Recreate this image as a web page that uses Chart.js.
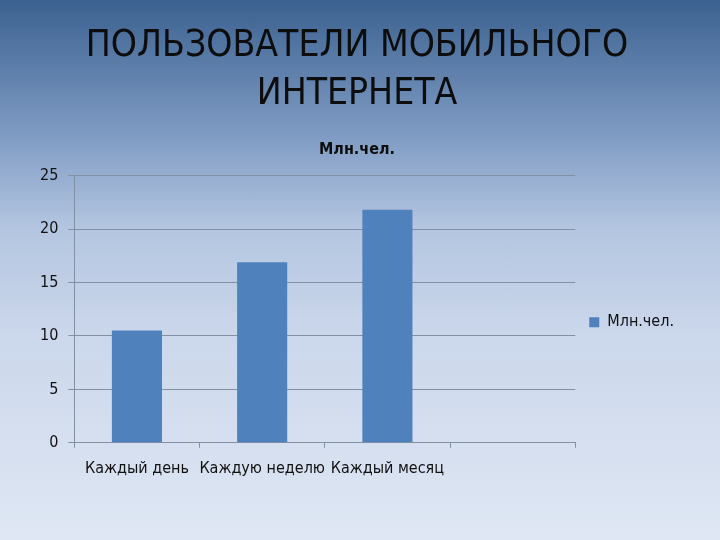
<!DOCTYPE html>
<html>
<head>
<meta charset="utf-8">
<script src="https://cdn.jsdelivr.net/npm/chart.js@4/dist/chart.umd.min.js"></script>
<style>
    html, body { margin: 0; padding: 0; }
    body {
        width: 720px; height: 540px; overflow: hidden;
        background: linear-gradient(to bottom, #3b6190 0%, #7f9bc3 25%, #b3c5e0 42%, #cbd7eb 62%, #dfe7f4 100%);
    }
    canvas { display: block; }
</style>
</head>
<body>
<canvas id="grafUsu" width="720" height="540"></canvas>
<script>
const categorias = ['Каждый день', 'Каждую неделю', 'Каждый месяц', ''];
const valores = [10.5, 16.9, 21.8, null];
const serie = 'Млн.чел.';
const titulo = ['ПОЛЬЗОВАТЕЛИ МОБИЛЬНОГО', 'ИНТЕРНЕТА'];
const yTicks = [0, 5, 10, 15, 20, 25];

const fonteTit = "'Liberation Sans Narrow', 'DejaVu Sans Condensed', sans-serif";
const fonteTxt = "'Liberation Sans Narrow', 'DejaVu Sans Condensed', sans-serif";

function iniGraf() {
    const ctx = document.getElementById('grafUsu').getContext('2d');
    window.mGraf = new Chart(ctx, {
        type: 'bar',
        data: {
            labels: categorias,
            datasets: [{
                label: serie,
                data: valores,
                backgroundColor: '#4f81bd',
                borderWidth: 0,
                barPercentage: 0.4,
                categoryPercentage: 1
            }]
        },
        options: {
            responsive: false,
            animation: false,
            layout: { padding: { left: 30, right: 36, top: 23, bottom: 51 } },
            plugins: {
                title: {
                    display: true,
                    text: titulo,
                    color: '#0d0d0d',
                    font: { family: fonteTit, size: 37, weight: 'normal', lineHeight: 1.29 },
                    padding: { top: 0, bottom: 17 }
                },
                subtitle: {
                    display: true,
                    text: serie,
                    color: '#0d0d0d',
                    font: { family: fonteTxt, size: 16, weight: 'bold' },
                    padding: { top: 5, bottom: 16 }
                },
                legend: {
                    position: 'right',
                    fullSize: false,
                    title: { display: true, text: ' ', font: { size: 10 }, padding: 7 },
                    labels: {
                        boxWidth: 10, boxHeight: 10, padding: 14,
                        color: '#111',
                        font: { family: fonteTxt, size: 16 }
                    }
                },
                tooltip: { enabled: false }
            },
            scales: {
                x: {
                    grid: { drawOnChartArea: false, drawTicks: true, tickLength: 5, offset: true, color: '#8290a3' },
                    border: { color: '#8290a3' },
                    ticks: {
                        color: '#111', maxRotation: 0, autoSkip: false, padding: 11,
                        font: { family: fonteTxt, size: 16 }
                    }
                },
                y: {
                    min: 0, max: 25,
                    afterBuildTicks: function(ax) { ax.ticks = yTicks.map(v => ({ value: v })); },
                    grid: { color: '#8290a3', tickLength: 6 },
                    border: { color: '#8290a3' },
                    ticks: {
                        color: '#111', padding: 10,
                        font: { family: fonteTxt, size: 16 }
                    }
                }
            }
        }
    });
}

document.addEventListener('DOMContentLoaded', iniGraf);
</script>
</body>
</html>
